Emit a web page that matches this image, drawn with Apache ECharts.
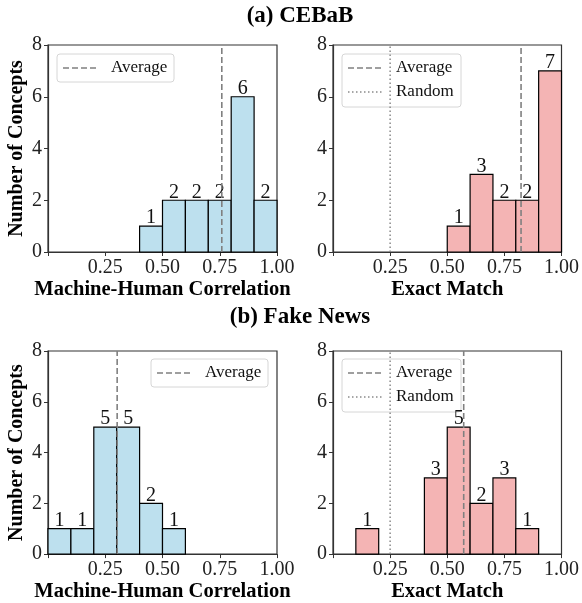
<!DOCTYPE html>
<html>
<head>
<meta charset="utf-8">
<script src="https://cdn.jsdelivr.net/npm/echarts@6/dist/echarts.min.js"></script>
<style>html,body{margin:0;padding:0;background:#fff}#c{width:582px;height:603px}</style>
</head>
<body>
<div id="c"></div>
<script>
const binStarts = [0.0, 0.1, 0.2, 0.3, 0.4, 0.5, 0.6, 0.7, 0.8, 0.9];
const binWidth = 0.1;
const cebabCorrCounts  = [0, 0, 0, 0, 1, 2, 2, 2, 6, 2];
const cebabMatchCounts = [0, 0, 0, 0, 0, 1, 3, 2, 2, 7];
const fakeCorrCounts   = [1, 1, 5, 5, 2, 1, 0, 0, 0, 0];
const fakeMatchCounts  = [0, 1, 0, 0, 3, 5, 2, 3, 1, 0];
const averages = [0.759, 0.823, 0.302, 0.572];
const randomBaseline = 0.25;
const xTicks = [0, 0.25, 0.5, 0.75, 1.0];
const yTicks = [0, 2, 4, 6, 8];
const panelTitles = ['(a) CEBaB', '(b) Fake News'];
const xNames = ['Machine-Human Correlation', 'Exact Match', 'Machine-Human Correlation', 'Exact Match'];
const yName = 'Number of Concepts';

const FONT = "'Liberation Serif', 'Times New Roman', serif";
const BLUE = '#BDE0EE';
const PINK = '#F4B4B4';
const AX = '#333333';

const panels = [
  {counts: cebabCorrCounts, color: BLUE, avg: averages[0], random: false},
  {counts: cebabMatchCounts, color: PINK, avg: averages[1], random: true},
  {counts: fakeCorrCounts, color: BLUE, avg: averages[2], random: false},
  {counts: fakeMatchCounts, color: PINK, avg: averages[3], random: true}
];
const grids = [
  {left: 48, top: 45, width: 229, height: 207},
  {left: 333, top: 45, width: 229, height: 207},
  {left: 48, top: 351, width: 229, height: 206},
  {left: 333, top: 351, width: 229, height: 206}
];

const option = {
  animation: false,
  backgroundColor: '#fff',
  textStyle: {fontFamily: FONT},
  grid: grids.map(g => Object.assign({show: true, borderColor: AX, borderWidth: 1.2, backgroundColor: 'transparent', containLabel: false}, g)),
  xAxis: grids.map((g, i) => ({
    gridIndex: i, type: 'value', min: xTicks[0], max: xTicks[xTicks.length - 1], interval: 0.25,
    name: xNames[i], nameLocation: 'middle', nameGap: 33,
    nameTextStyle: {fontFamily: FONT, fontSize: 20.5, fontWeight: 'bold', color: '#000', verticalAlign: 'middle'},
    axisLine: {show: true, lineStyle: {color: AX, width: 1.2}},
    axisTick: {show: true, inside: false, length: 4, lineStyle: {color: AX, width: 1}},
    axisLabel: {fontFamily: FONT, fontSize: 20, color: '#222', margin: 6,
      formatter: v => (v === 0 ? '' : v.toFixed(2))},
    splitLine: {show: false}
  })),
  yAxis: grids.map((g, i) => ({
    gridIndex: i, type: 'value', min: yTicks[0], max: yTicks[yTicks.length - 1], interval: 2,
    name: (i % 2 === 0) ? yName : '', nameLocation: 'middle', nameGap: 31,
    nameTextStyle: {fontFamily: FONT, fontSize: 20, fontWeight: 'bold', color: '#000', verticalAlign: 'middle'},
    axisLine: {show: true, lineStyle: {color: AX, width: 1.2}},
    axisTick: {show: true, inside: false, length: 4, lineStyle: {color: AX, width: 1}},
    axisLabel: {fontFamily: FONT, fontSize: 20, color: '#222', margin: 6},
    splitLine: {show: false}
  })),
  series: [],
  graphic: []
};

panels.forEach((p, i) => {
  const data = binStarts.map((s, k) => [s, s + binWidth, p.counts[k]]).filter(d => d[2] > 0);
  option.series.push({
    type: 'custom', xAxisIndex: i, yAxisIndex: i, z: 2,
    data: data,
    encode: {x: [0, 1], y: 2},
    renderItem: function (params, api) {
      const a = api.coord([api.value(0), api.value(2)]);
      const b = api.coord([api.value(1), 0]);
      return {
        type: 'group',
        children: [
          {type: 'rect', shape: {x: a[0], y: a[1], width: b[0] - a[0], height: b[1] - a[1]},
           style: {fill: p.color, stroke: '#000', lineWidth: 1.2}},
          {type: 'text', x: (a[0] + b[0]) / 2, y: a[1] + 2,
           style: {text: String(api.value(2)), fontFamily: FONT, fontSize: 20, fill: '#111',
                   align: 'center', verticalAlign: 'bottom'}}
        ]
      };
    }
  });
  option.series.push({
    type: 'line', xAxisIndex: i, yAxisIndex: i, z: 5, symbol: 'none',
    data: [[p.avg, 0], [p.avg, 8]],
    lineStyle: {color: '#808080', width: 1.6, type: [6, 3]}
  });
  if (p.random) {
    option.series.push({
      type: 'line', xAxisIndex: i, yAxisIndex: i, z: 5, symbol: 'none',
      data: [[randomBaseline, 0], [randomBaseline, 8]],
      lineStyle: {color: '#8a8a8a', width: 1.5, type: [1.5, 2.5]}
    });
  }
});

// titles
option.graphic.push({type: 'text', x: 300, y: 16, style: {text: panelTitles[0], fontFamily: FONT, fontSize: 23, fontWeight: 'bold', fill: '#000', align: 'center', verticalAlign: 'middle'}});
option.graphic.push({type: 'text', x: 300, y: 317, style: {text: panelTitles[1], fontFamily: FONT, fontSize: 23, fontWeight: 'bold', fill: '#000', align: 'center', verticalAlign: 'middle'}});

// legends
function legend(x0, y0, w, rows) {
  const h = rows.length === 1 ? 28 : 53;
  const children = [{type: 'rect', shape: {x: 0, y: 0, width: w, height: h, r: 3},
    style: {fill: 'rgba(255,255,255,0.8)', stroke: '#d6d6d6', lineWidth: 1}}];
  rows.forEach((r, k) => {
    const cy = 14 + k * 24;
    children.push({type: 'line', shape: {x1: 6, y1: cy, x2: 40, y2: cy},
      style: {stroke: r.color, lineWidth: 1.6, lineDash: r.dash}});
    children.push({type: 'text', x: 54, y: cy, style: {text: r.label, fontFamily: FONT, fontSize: 17, fill: '#111', verticalAlign: 'middle'}});
  });
  return {type: 'group', x: x0, y: y0, z: 100, children: children};
}
const avgRow = {label: 'Average', color: '#808080', dash: [6, 3]};
const rndRow = {label: 'Random', color: '#8a8a8a', dash: [1.5, 2.5]};
option.graphic.push(legend(57, 54, 117, [avgRow]));
option.graphic.push(legend(342, 54, 119, [avgRow, rndRow]));
option.graphic.push(legend(151, 359, 117, [avgRow]));
option.graphic.push(legend(342, 359, 119, [avgRow, rndRow]));

const chart = echarts.init(document.getElementById('c'), null, {renderer: 'canvas'});
chart.setOption(option);
</script>
</body>
</html>
